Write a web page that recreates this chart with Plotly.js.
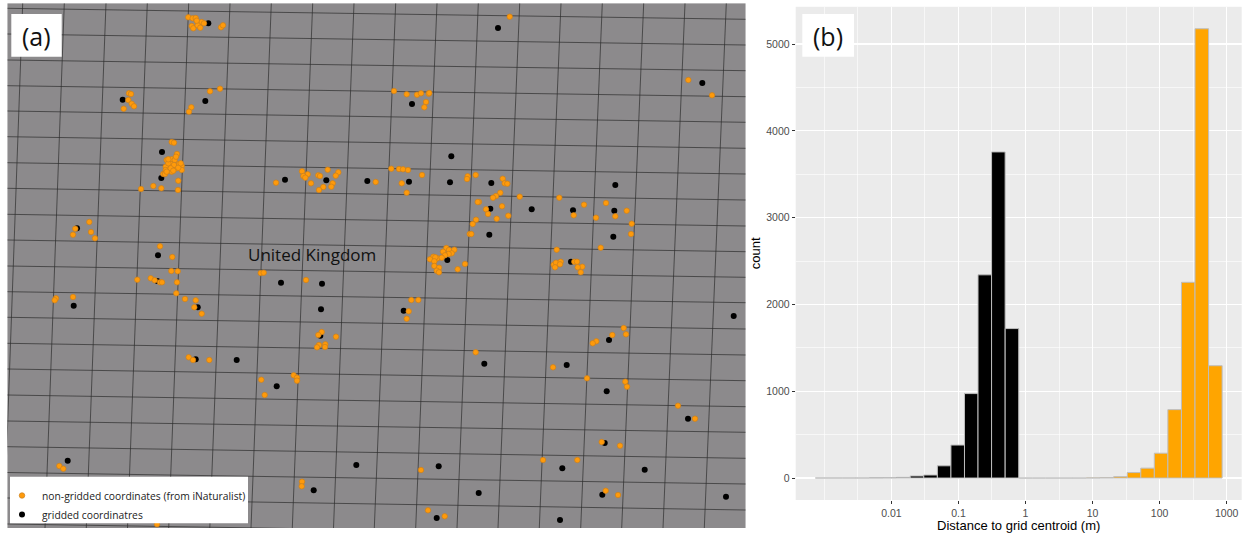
<!DOCTYPE html>
<html>
<head>
<meta charset="utf-8">
<script src="https://cdn.plot.ly/plotly-3.0.1.min.js"></script>
<style>html,body{margin:0;padding:0;background:#fff}#chart{width:1242px;height:533px}</style>
</head>
<body>
<div id="chart"></div>
<script>
// Panel (a): map, values read in picture coordinates
const griddedX = [208.3,122.7,205.3,162,161.3,285,326.3,367.3,77,158,157.3,281,322,73.7,197.7,321,320.3,195.7,236.7,276.7,67.7,356.3,313.7,498,702.3,412,451.3,409,450,491.3,615.3,490.3,531.7,573,614.3,489.3,613.3,447.3,571,733.7,403.7,609,484.3,566.7,606.7,688,604.7,438.7,562.3,644.7,478.7,602.3,726,436.7,560];
const griddedY = [23.3,99.7,101,152,178,179.7,180.3,181,228.3,255.3,281,282.7,283.7,305.7,307.3,309.3,335.7,359.3,360,386.3,460.7,465,490.3,28,83,104,156.3,181.7,182.3,183,185,208.7,209.3,210.3,210.7,234.7,236.7,260,261.7,316,310.7,340,363.7,365,391.3,418.7,443,466.3,468.3,469.7,493,494.7,496.7,518,520];
const inatX = [188.3,192.7,195.7,201.7,204,191.7,193.3,197.7,200.3,196.7,221,223,129,131,128.3,131.7,134,123.7,210,220,191.3,189,171.7,174,177,166.7,171.7,174.7,179,170.7,165.7,181.7,176.7,171.7,165.7,181.7,176,168.3,174,178.3,163.3,165,170.7,173.3,168.3,180.7,166.7,178.3,153.3,161.3,141,178,276,302,307.7,303.3,305.3,311,318.3,320,327.7,338.3,335.7,332.7,331.3,323.3,319,89.3,75.3,73,91,95,160,172.3,171.3,177.7,260.7,263.7,137.3,150.7,154.7,160,162,177,176.3,306,185,195.7,194.3,201.7,56,54.7,73,321.7,318.3,336,325.3,319,317,325,188.7,193,209.3,293.7,297,297,261.3,264.7,59.3,63.3,302,301.7,157,509.7,688.3,712,394,406.7,417,421,428.7,429.3,426,424.3,375.7,391.3,399,403,408,422,401.7,406.7,467.7,467,475.7,502.7,504.7,507.3,500.3,496,493,519.7,559.3,479,477.7,486,488,502,496.7,508.3,476,472.7,469.7,471.3,584,606,626.7,615.3,573.7,596,631.7,631,600.7,556.7,446.3,443,449,454.3,451.7,448.7,445,437.3,441.7,433.3,435.3,430,434.3,434.3,439,465,457.7,436.7,439,580.7,553.7,556,560.7,560,555,574.3,577,582.3,577.7,411.3,418.3,408.7,406.7,623.7,626,612.3,596.3,592.7,475.7,553,587,625.3,627,678,695,601.7,620,543,577.3,421,605.7,618,428,444.7];
const inatY = [17.3,18.3,18,22,23.3,26,28.3,25.3,27.7,20.7,27.3,25.3,93.3,94,100,103.7,106.3,108.7,91.3,88.7,107.3,111.7,142,142.7,154,160,159.3,160,164,164,166.7,166,168.3,171.7,170,170,156.7,163.3,165,167.7,174,174,168.3,170.7,159.3,163.3,171.7,180.7,186,188.3,189,190,182.7,171.3,174.3,176,177.7,183.3,175.3,176,169.7,172.3,175.7,183.3,186.7,187,190,222,228.7,234.7,232,238.3,246.3,257,271,271.3,273,272.7,279.7,278.3,280.3,282.3,282.3,282.3,293.3,280,299,300.3,307.3,313.7,298.3,300.3,297,332,335,336.7,344.3,345,347.3,347,357.3,360,360,375.3,377.7,380.7,379.7,395,466,468.7,481.7,486.3,524.3,16.7,80,95.3,91,94.3,94.7,93.3,93.7,93,102,107.3,182,168.7,169,169.3,170,175,183.3,192.7,176.3,179,175,178.7,183.3,183.7,192.7,196,197.7,196.7,197.7,202,202,209.3,214,206.3,218.7,215.7,219.7,224,234,234,204.7,203,210.7,216.3,215.3,217.7,223.7,234,247.7,249.7,248,251.7,250,249.7,253.3,254,255.3,258.3,257.7,256.7,257.3,259.3,261.3,266,267.7,264,269.3,270.7,272.3,272.3,264.7,262.7,261.7,264.3,267.3,261.7,261.7,266.7,267.3,300,300,311.3,318.7,328,334.3,335,341.3,343.3,352.3,367.3,378.3,381.7,386.7,405.7,418.7,442,445.7,460,460,470,490.7,495,510.3,516.3];

// Map graticule: where each line meets the edges of the map
const meridianTopX = [22.7,64.3,106,147.3,188.7,230,271.3,312.7,354,395.7,437,478.3,519.7,561,602.3,643.7,685,726.3];
const meridianBottomX = [3.9,45,86.3,127.5,168.7,209.8,251,292.3,333.5,374.3,415.7,457,498,539.3,580.7,621.7,663,704.3];
const parallelLeftY = [8.3,34,60,85.7,111,136.7,162.7,188.3,214.3,240,266,291.7,317.3,343.3,369,395,421,446.7,472.5,498,524];
const parallelRightY = [19.3,45,70.7,96.7,122.3,148.3,174,200,226,251.7,277.3,302.7,329,355,380.7,406.7,432.3,458.3,484,510,535.7];

// Panel (b): histogram of log10 distance (m)
const griddedBins = [-3.033,-2.831,-2.629,-2.427,-2.224,-2.022,-1.820,-1.618,-1.416,-1.213,-1.011,-0.809,-0.607,-0.405,-0.202];
const griddedCounts = [1,1,1,1,2,4,8,24,35,141,380,973,2341,3757,1722];
const inatBins = [0,0.202,0.405,0.607,0.809,1.011,1.213,1.416,1.618,1.820,2.022,2.224,2.427,2.629,2.831];
const inatCounts = [0,0,0,0,0,2,5,16,63,114,286,788,2255,5176,1294];
const distanceTicks = [-2,-1,0,1,2,3];
const distanceLabels = ['0.01','0.1','1','10','100','1000'];
const distanceMinor = [-3,-2.5,-1.5,-0.5,0.5,1.5,2.5];
const countTicks = [0,1000,2000,3000,4000,5000];
const countMinor = [500,1500,2500,3500,4500];
const binLogWidth = 0.2022;

const W = 1242, H = 533;
const mapL = 7.3, mapR = 745.7, mapT = 3.3, mapB = 528;
const histL = 795.7, histR = 1241.7, histT = 6.8, histB = 500;

const gridX = [], gridY = [];
meridianTopX.forEach((x, i) => { gridX.push(x, meridianBottomX[i], null); gridY.push(mapT, mapB, null); });
parallelLeftY.forEach((y, i) => { gridX.push(mapL, mapR, null); gridY.push(y, parallelRightY[i], null); });

const traces = [
  {type:'scatter', mode:'lines', x:gridX, y:gridY, xaxis:'x', yaxis:'y', showlegend:false, hoverinfo:'skip',
   line:{color:'rgba(45,45,45,0.7)', width:1}},
  {type:'scatter', mode:'markers', x:griddedX, y:griddedY, xaxis:'x', yaxis:'y', name:'gridded coordinatres',
   marker:{color:'#000000', size:6}},
  {type:'scatter', mode:'markers', x:inatX, y:inatY, xaxis:'x', yaxis:'y', name:'non-gridded coordinates (from iNaturalist)',
   marker:{color:'#FF9A0A', size:5.5, line:{color:'#C87F1E', width:0.7}}},
  {type:'bar', x:griddedBins, y:griddedCounts, width:binLogWidth, xaxis:'x2', yaxis:'y2', showlegend:false,
   marker:{color:'#000000', line:{color:'#BEBEBE', width:1}}},
  {type:'bar', x:inatBins, y:inatCounts, width:binLogWidth, xaxis:'x2', yaxis:'y2', showlegend:false,
   marker:{color:'#FFA500', line:{color:'#BEBEBE', width:1}}}
];

function box(x0, x1, y0, y1) {
  return {type:'rect', xref:'paper', yref:'paper', x0:x0/W, x1:x1/W, y0:1-y1/H, y1:1-y0/H,
          fillcolor:'#ffffff', line:{width:0}, layer:'above'};
}
const labelFont = '"Open Sans", sans-serif';
function label(text, px, py, size) {
  return {text:text, xref:'paper', yref:'paper', x:px/W, y:1-py/H, xanchor:'center', yanchor:'middle',
          showarrow:false, font:{family:labelFont, size:size, color:'#111'}};
}

const layout = {
  width:W, height:H, autosize:false, margin:{l:0,r:0,t:0,b:0},
  paper_bgcolor:'#ffffff', plot_bgcolor:'#EBEBEB', barmode:'overlay', bargap:0,
  font:{family:'"Liberation Sans", Arial, sans-serif', color:'#4D4D4D', size:10},
  xaxis:{domain:[mapL/W, mapR/W], range:[mapL, mapR], visible:false, anchor:'y'},
  yaxis:{domain:[1-mapB/H, 1-mapT/H], range:[mapB, mapT], visible:false, anchor:'x'},
  xaxis2:{domain:[histL/W, histR/W], range:[-3.427, 3.224], anchor:'y2', zeroline:false,
    tickmode:'array', tickvals:distanceTicks, ticktext:distanceLabels, ticks:'outside', ticklen:3, tickwidth:1, tickcolor:'#333333',
    tickfont:{size:10.5, color:'#4D4D4D'}, showgrid:true, gridcolor:'#ffffff', gridwidth:1.2, showline:false,
    minor:{tickmode:'array', tickvals:distanceMinor, showgrid:true, gridcolor:'#ffffff', gridwidth:0.6, ticks:''},
    title:{text:'Distance to grid centroid (m)', font:{size:13, color:'#000000'}, standoff:2}},
  yaxis2:{domain:[1-histB/H, 1-histT/H], range:[-253, 5429], anchor:'x2', zeroline:false,
    tickmode:'array', tickvals:countTicks, ticks:'outside', ticklen:3, tickwidth:1, tickcolor:'#333333',
    tickfont:{size:10.5, color:'#4D4D4D'}, showgrid:true, gridcolor:'#ffffff', gridwidth:1.2, showline:false,
    minor:{tickmode:'array', tickvals:countMinor, showgrid:true, gridcolor:'#ffffff', gridwidth:0.6, ticks:''},
    title:{text:'count', font:{size:13, color:'#000000'}, standoff:2}},
  shapes:[
    {type:'rect', xref:'x', yref:'y', x0:mapL, x1:mapR, y0:mapB, y1:mapT, fillcolor:'#8C8A8C', line:{width:0}, layer:'below'},
    box(11.3, 61.7, 14, 56.7),
    box(802.3, 854, 14, 56.8),
    box(10, 248, 476.7, 523.3)
  ],
  annotations:[
    label('(a)', 36, 36, 25),
    label('(b)', 828, 36, 25),
    label('United Kingdom', 311.5, 254.5, 17)
  ],
  legend:{x:2/W, y:1-481/H, xanchor:'left', yanchor:'top', bgcolor:'rgba(0,0,0,0)', borderwidth:0,
    traceorder:'reversed', itemclick:false, font:{family:labelFont, size:10.3, color:'#222'}, tracegroupgap:0}
};

Plotly.newPlot('chart', traces, layout, {displayModeBar:false, staticPlot:true});
</script>
</body>
</html>
